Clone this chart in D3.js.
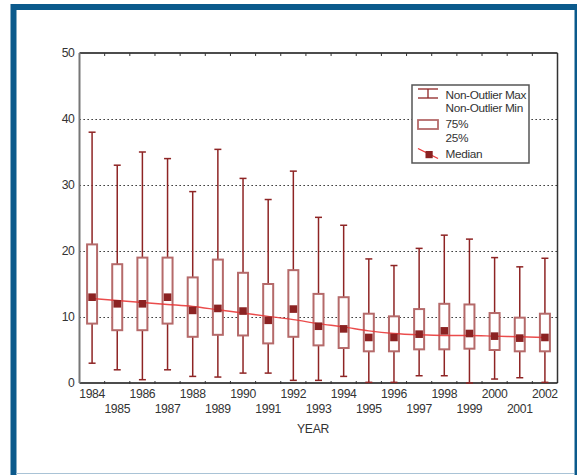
<!DOCTYPE html>
<html><head><meta charset="utf-8">
<script src="https://cdn.jsdelivr.net/npm/d3@7"></script>
<style>
html,body{margin:0;padding:0;background:#fff;}
svg{display:block;font-family:"Liberation Sans",Arial,Helvetica,sans-serif;}
svg text{letter-spacing:-0.35px;}
</style></head>
<body>
<svg id="chart" width="577" height="475"></svg>
<script>
const years = ["1984","1985","1986","1987","1988","1989","1990","1991","1992","1993","1994","1995","1996","1997","1998","1999","2000","2001","2002"];
const maxVals = [38, 33, 35, 34, 29, 35.4, 31, 27.8, 32.1, 25.1, 23.9, 18.8, 17.8, 20.4, 22.4, 21.8, 19, 17.6, 18.9];
const q3Vals  = [21, 18, 19, 19, 16, 18.7, 16.7, 15, 17.1, 13.5, 13, 10.5, 10.1, 11.2, 12, 11.9, 10.6, 9.9, 10.5];
const medVals = [13, 12, 12, 13, 11, 11.3, 10.9, 9.5, 11.2, 8.6, 8.2, 6.9, 6.9, 7.4, 7.9, 7.5, 7.1, 6.8, 6.9];
const q1Vals  = [9, 8, 8, 9, 7, 7.3, 7.2, 6, 7, 5.7, 5.3, 4.8, 4.8, 5.1, 5.1, 5.2, 5, 4.8, 4.8];
const minVals = [3, 2, 0.5, 2, 1, 0.9, 1.5, 1.5, 0.4, 0.4, 1, 0.1, 0.1, 1.1, 1.1, 0, 0.6, 0.8, 0.1];
const smoothVals = [12.8, 12.5, 12.2, 11.9, 11.6, 11.1, 10.6, 10.1, 9.6, 9.0, 8.5, 7.9, 7.5, 7.3, 7.2, 7.2, 7.1, 7.0, 6.9];
const yTicks = [0, 10, 20, 30, 40, 50];
const gridTicks = [10, 20, 30, 40];
const legendItems = ["Non-Outlier Max", "Non-Outlier Min", "75%", "25%", "Median"];
const xTitle = "YEAR";

const svg = d3.select("#chart");
const L = 79.5, R = 557.5, T = 53, B = 383;
const x = d3.scaleBand().domain(years).range([L, R]).padding(0);
const y = d3.scaleLinear().domain([0, 50]).range([B, T]);

const dark = "#8e2424", boxStroke = "#b56a6a", medFill = "#8b2222", lineCol = "#e83838", txt = "#333";
const fs = 12.2;

// frame
svg.append("rect").attr("x", 13.5).attr("y", 7).attr("width", 564).attr("height", 480)
  .attr("fill", "none").attr("stroke", "#0b5a8c").attr("stroke-width", 6);
svg.append("line").attr("x1", 16).attr("x2", 574).attr("y1", 473.5).attr("y2", 473.5)
  .attr("stroke", "#a9c3d6").attr("stroke-width", 1);

// grid
svg.append("g").selectAll("line").data(gridTicks).join("line")
  .attr("x1", L).attr("x2", R).attr("y1", d => Math.round(y(d)) + 0.5).attr("y2", d => Math.round(y(d)) + 0.5)
  .attr("stroke", "#111").attr("stroke-width", 1).attr("stroke-dasharray", "1.3,2.7");

// plot border
svg.append("line").attr("x1", L).attr("x2", R).attr("y1", T).attr("y2", T).attr("stroke", "#111").attr("stroke-width", 1.5);
svg.append("line").attr("x1", R).attr("x2", R).attr("y1", T).attr("y2", B).attr("stroke", "#333").attr("stroke-width", 1.5);
svg.append("line").attr("x1", L).attr("x2", R).attr("y1", B).attr("y2", B).attr("stroke", "#111").attr("stroke-width", 1.5);
svg.append("line").attr("x1", L).attr("x2", L).attr("y1", T).attr("y2", B).attr("stroke", "#777").attr("stroke-width", 2);

// x ticks at category boundaries (top and bottom, inward)
const bounds = years.slice(1).map(d => x(d));
svg.append("g").selectAll("line").data(bounds).join("line")
  .attr("x1", d => d).attr("x2", d => d).attr("y1", T).attr("y2", T + 3).attr("stroke", "#333");
svg.append("g").selectAll("line").data(bounds).join("line")
  .attr("x1", d => d).attr("x2", d => d).attr("y1", B - 2).attr("y2", B + 1).attr("stroke", "#333");

// y tick labels
svg.append("g").selectAll("text").data(yTicks).join("text")
  .attr("x", 74.5).attr("y", d => y(d)).attr("dy", "0.36em").attr("text-anchor", "end")
  .attr("font-size", fs).attr("fill", txt).text(d => d);

// x tick labels (alternating rows)
svg.append("g").selectAll("text").data(years).join("text")
  .attr("x", d => x(d) + x.bandwidth() / 2)
  .attr("y", (d, i) => i % 2 === 0 ? 398.3 : 412.5)
  .attr("text-anchor", "middle").attr("font-size", fs).attr("fill", txt).text(d => d);

svg.append("text").attr("x", 313).attr("y", 433).attr("text-anchor", "middle")
  .attr("font-size", fs).attr("fill", txt).text(xTitle);

// boxes
const cx = d => x(d) + x.bandwidth() / 2;
const g = svg.append("g");
const data = years.map((d, i) => ({yr: d, max: maxVals[i], q3: q3Vals[i], med: medVals[i], q1: q1Vals[i], min: minVals[i]}));
g.selectAll(".wu").data(data).join("line")
  .attr("x1", d => cx(d.yr)).attr("x2", d => cx(d.yr)).attr("y1", d => y(d.max)).attr("y2", d => y(d.q3))
  .attr("stroke", dark).attr("stroke-width", 1.5);
g.selectAll(".wl").data(data).join("line")
  .attr("x1", d => cx(d.yr)).attr("x2", d => cx(d.yr)).attr("y1", d => y(d.q1)).attr("y2", d => y(d.min))
  .attr("stroke", dark).attr("stroke-width", 1.5);
g.selectAll(".cu").data(data).join("line")
  .attr("x1", d => cx(d.yr) - 3.5).attr("x2", d => cx(d.yr) + 3.5).attr("y1", d => y(d.max)).attr("y2", d => y(d.max))
  .attr("stroke", dark).attr("stroke-width", 1.5);
g.selectAll(".cl").data(data).join("line")
  .attr("x1", d => cx(d.yr) - 3.5).attr("x2", d => cx(d.yr) + 3.5).attr("y1", d => y(d.min)).attr("y2", d => y(d.min))
  .attr("stroke", dark).attr("stroke-width", 1.5);
g.selectAll(".bx").data(data).join("rect")
  .attr("x", d => cx(d.yr) - 5).attr("width", 10)
  .attr("y", d => y(d.q3)).attr("height", d => y(d.q1) - y(d.q3))
  .attr("fill", "#fff").attr("stroke", boxStroke).attr("stroke-width", 2);

// smooth line
const line = d3.line().x((d, i) => cx(years[i])).y(d => y(d)).curve(d3.curveMonotoneX);
svg.append("path").datum(smoothVals).attr("d", line).attr("fill", "none")
  .attr("stroke", lineCol).attr("stroke-width", 1.4).attr("opacity", 0.9);

// medians
svg.append("g").selectAll("rect").data(data).join("rect")
  .attr("x", d => cx(d.yr) - 3.8).attr("y", d => y(d.med) - 3.8).attr("width", 7.6).attr("height", 7.6)
  .attr("fill", medFill);

// legend
const lg = svg.append("g");
lg.append("rect").attr("x", 412).attr("y", 85).attr("width", 117).attr("height", 78)
  .attr("fill", "#fff").attr("stroke", "#555").attr("stroke-width", 1.5);
lg.append("line").attr("x1", 418).attr("x2", 438).attr("y1", 89).attr("y2", 89).attr("stroke", dark).attr("stroke-width", 1.3);
lg.append("line").attr("x1", 418).attr("x2", 438).attr("y1", 98).attr("y2", 98).attr("stroke", dark).attr("stroke-width", 1.3);
lg.append("line").attr("x1", 428).attr("x2", 428).attr("y1", 89).attr("y2", 98).attr("stroke", dark).attr("stroke-width", 1.3);
lg.append("rect").attr("x", 418).attr("y", 120).attr("width", 20).attr("height", 9)
  .attr("fill", "#fff").attr("stroke", boxStroke).attr("stroke-width", 1.8);
lg.append("line").attr("x1", 418).attr("x2", 438).attr("y1", 148.5).attr("y2", 158.5).attr("stroke", lineCol).attr("stroke-width", 1.3);
lg.append("rect").attr("x", 425.5).attr("y", 151).attr("width", 7.2).attr("height", 7.2).attr("fill", medFill);
const lys = [99, 111.5, 128.3, 141.5, 158.3];
lg.selectAll("text").data(legendItems).join("text")
  .attr("x", 445.5).attr("y", (d, i) => lys[i]).attr("font-size", 11.8)
  .attr("letter-spacing", "-0.45px").attr("fill", txt).text(d => d);
</script>
</body></html>
